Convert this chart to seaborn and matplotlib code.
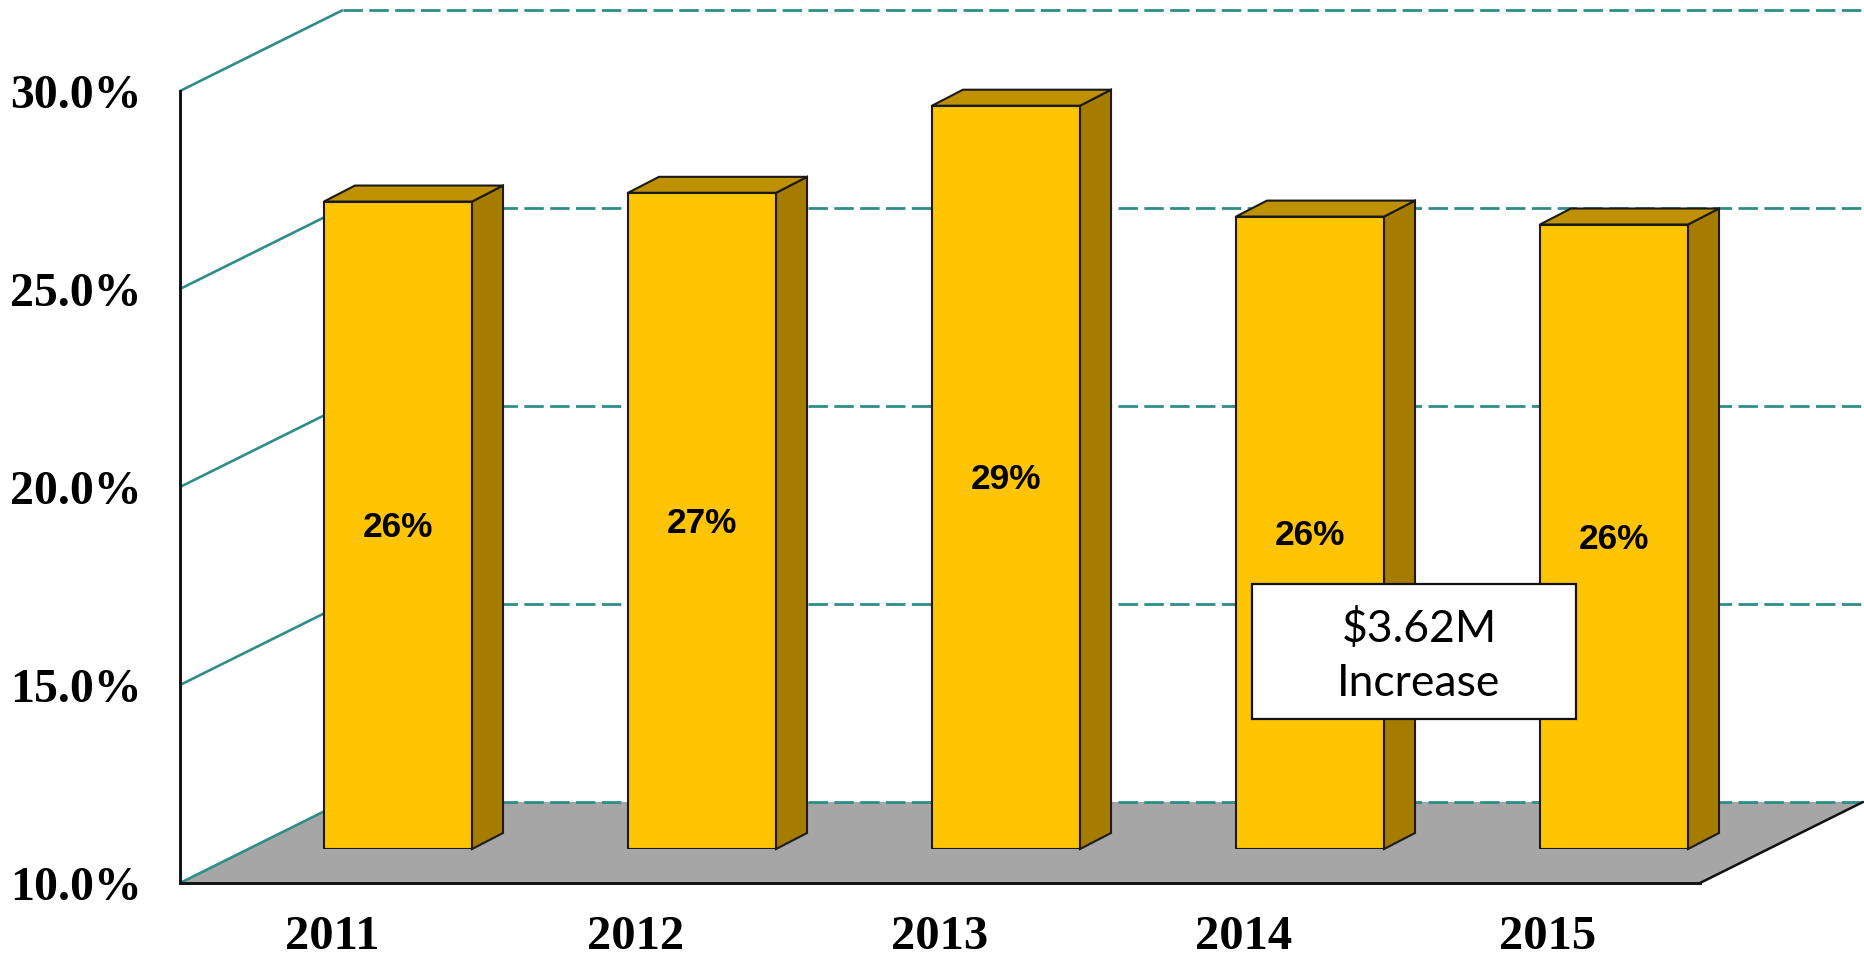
import matplotlib
matplotlib.use("Agg")
import matplotlib.pyplot as plt
import seaborn as sns
import pandas as pd
from matplotlib.patches import Polygon, Rectangle

years = ["2011", "2012", "2013", "2014", "2015"]
shares = [26.35, 26.57, 28.77, 25.97, 25.77]
y_ticks = [10, 15, 20, 25, 30]
y_tick_labels = ["10.0%", "15.0%", "20.0%", "25.0%", "30.0%"]
callout = "$3.62M\nIncrease"

W, H = 1864, 956
TEAL = "#2F8D88"
SERIF = "Liberation Serif"


def px_rect(left, top, right, bottom):
    return [left / W, 1 - bottom / H, (right - left) / W, (bottom - top) / H]


sns.set_style("white")
plt.rcParams["font.family"] = SERIF

fig = plt.figure(figsize=(W / 100, H / 100), dpi=100)

# front plane of the chart box, the walls and floor are drawn from it
ax = fig.add_axes(px_rect(180, 91, 1700, 883))
ax.set_xlim(-0.5, 4.5)
ax.set_ylim(10, 30)
x_per_px = 5 / 1520
y_per_px = 20 / 792

# depth of the box
box_dx = 163 * x_per_px
box_dy = 81 * y_per_px
x_end = 4.5 + box_dx

floor = Polygon(
    [(-0.5, 10), (4.5, 10), (x_end, 10 + box_dy), (-0.5 + box_dx, 10 + box_dy)],
    closed=True, facecolor="#A6A6A6", edgecolor="none", clip_on=False, zorder=1,
)
ax.add_patch(floor)

for tick in y_ticks:
    ax.plot([-0.5, -0.5 + box_dx], [tick, tick + box_dy], color=TEAL, lw=1.9,
            clip_on=False, zorder=2, solid_capstyle="butt")
    ax.plot([-0.5 + box_dx, x_end], [tick + box_dy, tick + box_dy], color=TEAL, lw=2.0,
            linestyle=(0, (7, 2.3)), clip_on=False, zorder=2)

# right edge of the floor
ax.plot([4.5, x_end], [10, 10 + box_dy], color="#111111", lw=1.8, clip_on=False, zorder=3)

sns.despine(ax=ax, top=True, right=True)
for side in ["left", "bottom"]:
    ax.spines[side].set_color("#111111")
    ax.spines[side].set_linewidth(2.1)
    ax.spines[side].set_zorder(4)

ax.set_yticks(y_ticks)
ax.set_yticklabels(y_tick_labels, fontsize=34.4, fontweight="bold", color="black", family=SERIF)
ax.set_xticks(range(len(years)))
ax.set_xticklabels(years, fontsize=35, fontweight="bold", color="black", family=SERIF)
ax.tick_params(axis="y", length=0, pad=27.5)
ax.tick_params(axis="x", length=0, pad=23)
ax.set_xlabel("")
ax.set_ylabel("")

# bars stand partway back on the floor, so they get their own shifted axes
ax_bar = fig.add_axes(px_rect(246, 57, 1766, 849))
ax_bar.patch.set_alpha(0)
df = pd.DataFrame({"year": years, "rise": [s - 10 for s in shares]})
sns.barplot(data=df, x="year", y="rise", ax=ax_bar, width=0.487, bottom=10,
            color="#FFC404", saturation=1, edgecolor="#1A1A1A", linewidth=1.5, zorder=3)
ax_bar.set_xlim(-0.5, 4.5)
ax_bar.set_ylim(10, 30)
ax_bar.axis("off")

bar_dx = 31 * x_per_px
bar_dy = 16 * y_per_px
bars = list(ax_bar.containers[0])
for bar in bars:
    x0 = bar.get_x()
    x1 = x0 + bar.get_width()
    y0 = bar.get_y()
    y1 = y0 + bar.get_height()
    side_face = Polygon(
        [(x1, y0), (x1 + bar_dx, y0 + bar_dy), (x1 + bar_dx, y1 + bar_dy), (x1, y1)],
        closed=True, facecolor="#A67C00", edgecolor="#1A1A1A", lw=1.5, clip_on=False, zorder=2,
    )
    top_face = Polygon(
        [(x0, y1), (x1, y1), (x1 + bar_dx, y1 + bar_dy), (x0 + bar_dx, y1 + bar_dy)],
        closed=True, facecolor="#BF9000", edgecolor="#1A1A1A", lw=1.5, clip_on=False, zorder=2,
    )
    ax_bar.add_patch(side_face)
    ax_bar.add_patch(top_face)

value_labels = ax_bar.bar_label(ax_bar.containers[0], labels=[f"{s:.0f}%" for s in shares],
                                label_type="center", fontsize=25.4, fontweight="bold",
                                family="Liberation Sans", color="black", zorder=5)
for label in value_labels:
    label.xyann = (0, -1.8)

# callout box
fig.add_artist(Rectangle((1252 / W, 1 - 719 / H), 324 / W, 135 / H, transform=fig.transFigure,
                         facecolor="white", edgecolor="#111111", lw=1.6, zorder=5))
fig.text(1419 / W, 1 - 656 / H, callout, ha="center", va="center", fontsize=32,
         family="Lato", color="black", linespacing=1.38, zorder=6)

fig.savefig("out.png", dpi=100)
plt.close(fig)
